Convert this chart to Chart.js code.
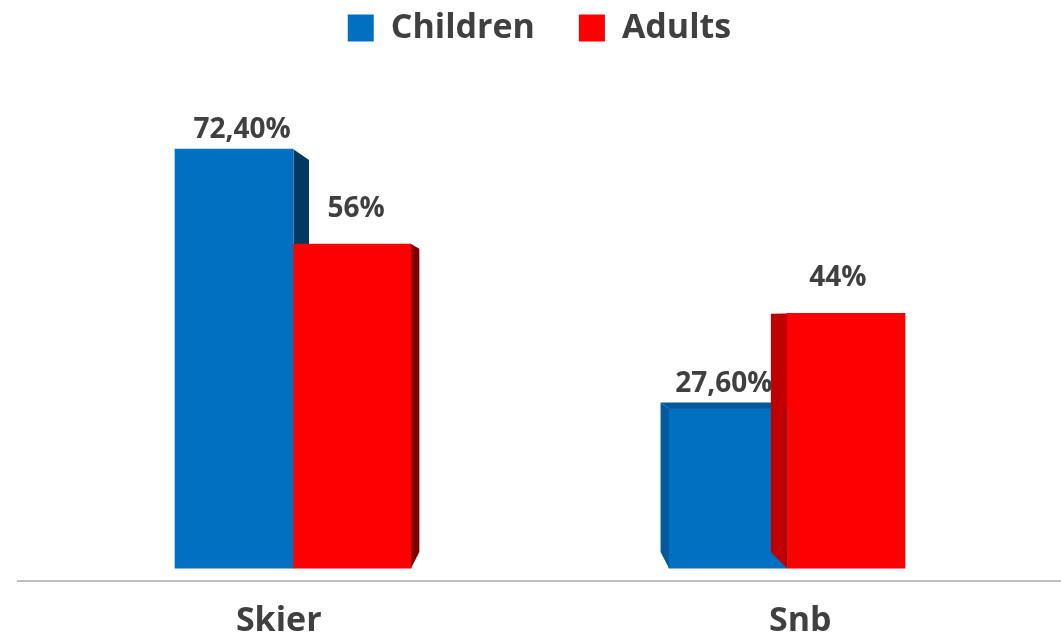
<!DOCTYPE html>
<html>
<head>
<meta charset="utf-8">
<title>Children vs Adults</title>
<script src="https://cdn.jsdelivr.net/npm/chart.js@4/dist/chart.umd.min.js"></script>
<style>
  html, body { margin: 0; padding: 0; background: #ffffff; }
  #wrap { width: 1061px; height: 640px; }
</style>
</head>
<body>
<div id="wrap"><canvas id="chart" width="1061" height="640"></canvas></div>
<script>
// ---- data ----
const categories = ['Skier', 'Snb'];
const seriesNames = ['Children', 'Adults'];
const childrenValues = [72.4, 27.6];
const adultsValues = [56, 44];

// ---- look ----
const TEXT = '#404040';
const FONT = 'Open Sans';
const DEPTH = 0.065;            // how far a bar's back edge recedes toward the centre

function formatPct(v) {
  return Number.isInteger(v) ? v + '%' : v.toFixed(2).replace('.', ',') + '%';
}

function vanishing(chart) {
  const a = chart.chartArea;
  return { x: (a.left + a.right) / 2, y: (a.top + a.bottom) / 2 };
}
function recede(p, v) {
  return { x: p.x + (v.x - p.x) * DEPTH, y: p.y + (v.y - p.y) * DEPTH };
}
function barBox(el) {
  const p = el.getProps(['x', 'y', 'base', 'width'], true);
  return {
    l: p.x - p.width / 2, r: p.x + p.width / 2,
    t: Math.min(p.y, p.base), b: Math.max(p.y, p.base)
  };
}
function fillPoly(ctx, pts, color) {
  ctx.beginPath();
  ctx.moveTo(pts[0].x, pts[0].y);
  for (let i = 1; i < pts.length; i++) ctx.lineTo(pts[i].x, pts[i].y);
  ctx.closePath();
  ctx.fillStyle = color;
  ctx.fill();
}
function eachBar(chart, fn) {
  chart.data.datasets.forEach((ds, di) => {
    const meta = chart.getDatasetMeta(di);
    if (meta.hidden) return;
    meta.data.forEach((el, i) => fn(ds, el, i));
  });
}

// Pseudo-3D sides, tops and value labels for the columns
const depthPlugin = {
  id: 'depth',
  beforeDatasetsDraw(chart) {
    // faces on the right of a column sit behind the neighbouring column's front
    const v = vanishing(chart), ctx = chart.ctx;
    ctx.save();
    eachBar(chart, (ds, el) => {
      const b = barBox(el);
      if (b.r < v.x) {
        const ft = { x: b.r, y: b.t }, fb = { x: b.r, y: b.b };
        fillPoly(ctx, [ft, recede(ft, v), recede(fb, v), fb], ds.sideDark);
        if (ds.edgeLine) {
          // soft highlight where the front meets the side
          ctx.strokeStyle = 'rgba(200,210,220,0.55)';
          ctx.lineWidth = 1;
          ctx.beginPath();
          ctx.moveTo(Math.round(b.r) + 0.5, b.t);
          ctx.lineTo(Math.round(b.r) + 0.5, b.b);
          ctx.stroke();
        }
      }
    });
    ctx.restore();
  },
  afterDatasetsDraw(chart) {
    const v = vanishing(chart), ctx = chart.ctx;
    ctx.save();
    eachBar(chart, (ds, el) => {
      const b = barBox(el);
      const tl = { x: b.l, y: b.t }, tr = { x: b.r, y: b.t }, bl = { x: b.l, y: b.b };
      if (b.t > v.y + 1) {
        fillPoly(ctx, [tl, tr, recede(tr, v), recede(tl, v)], ds.sideLight);
      }
      if (b.l > v.x) {
        fillPoly(ctx, [tl, recede(tl, v), recede(bl, v), bl], ds.sideLight);
      }
    });
    // value labels, centred over the whole column including its depth
    ctx.font = 'bold 28px "' + FONT + '"';
    ctx.fillStyle = TEXT;
    ctx.textAlign = 'center';
    ctx.textBaseline = 'alphabetic';
    eachBar(chart, (ds, el, i) => {
      const b = barBox(el);
      const bl = recede({ x: b.l, y: b.t }, v), br = recede({ x: b.r, y: b.t }, v);
      const left = Math.min(b.l, bl.x), right = Math.max(b.r, br.x);
      const top = Math.min(b.t, bl.y);
      ctx.fillText(formatPct(ds.values[i]), (left + right) / 2, top - ds.labelGap);
    });
    ctx.restore();
  }
};

function series(values) {
  return values.map((y, i) => ({ x: i, y }));
}

new Chart(document.getElementById('chart'), {
  type: 'bar',
  data: {
    labels: categories,
    datasets: [
      {
        label: seriesNames[0],
        data: series(childrenValues),
        values: childrenValues,
        backgroundColor: '#0070C0',
        sideDark: '#003A63',
        sideLight: '#04599B',
        edgeLine: true,
        labelGap: 11,
        xAxisID: 'xb'
      },
      {
        label: seriesNames[1],
        data: series(adultsValues),
        values: adultsValues,
        backgroundColor: '#FF0000',
        sideDark: '#7F0000',
        sideLight: '#C00000',
        edgeLine: false,
        labelGap: 27,
        xAxisID: 'xb'
      }
    ]
  },
  options: {
    responsive: false,
    animation: false,
    devicePixelRatio: 1,
    barThickness: 118,
    layout: { padding: { top: -33, left: 18, right: 0, bottom: -14 } },
    plugins: {
      legend: {
        position: 'top',
        labels: {
          boxWidth: 26,
          boxHeight: 27,
          padding: 44,
          color: TEXT,
          font: { family: FONT, weight: 'bold', size: 34 }
        }
      },
      tooltip: { enabled: false }
    },
    scales: {
      x: {
        type: 'category',
        position: 'bottom',
        offset: true,
        grid: { display: false },
        border: { display: true, color: '#BFBFBF', width: 2 },
        ticks: {
          color: TEXT,
          padding: 12,
          font: { family: FONT, weight: 'bold', size: 34 }
        }
      },
      // bar positions: slightly drawn in toward the centre, as seen in perspective
      xb: {
        type: 'linear',
        display: false,
        offset: false,
        bounds: 'data',
        min: -0.5567,
        max: 1.5547
      },
      y: {
        display: false,
        min: -2.25,
        max: 88.64
      }
    }
  },
  plugins: [depthPlugin]
});
</script>
</body>
</html>
